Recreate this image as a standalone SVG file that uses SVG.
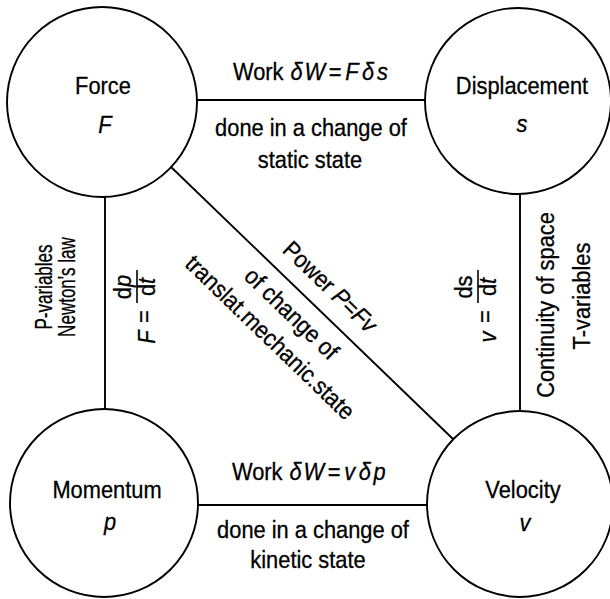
<svg xmlns="http://www.w3.org/2000/svg" width="610" height="599" viewBox="0 0 610 599">
<style>
text{font-family:"Liberation Sans",Arial,Helvetica,sans-serif;font-size:24px;fill:#000;stroke:#000;stroke-width:0.3}
.c{text-anchor:middle}
.i{font-style:italic}
.node circle{fill:#fff;stroke:#000;stroke-width:1.9}
.edge line{stroke:#000;stroke-width:1.9}
.bar{stroke:#000;stroke-width:1.6}
</style>
<rect width="610" height="599" fill="#fff"/>
<g id="connectors" class="edge">
<line x1="196" y1="100" x2="425" y2="100"/>
<line x1="197" y1="505" x2="427" y2="505"/>
<line x1="105" y1="196" x2="105" y2="410"/>
<line x1="520" y1="193" x2="520" y2="411"/>
<line x1="170" y1="166" x2="453" y2="439"/>
</g>
<g id="force" class="node">
<circle cx="102" cy="102" r="95"/>
<text class="c" transform="translate(103,94) scale(.91,1)">Force</text>
<text class="c i" transform="translate(105,133) scale(.91,1)">F</text>
</g>
<g id="displacement" class="node">
<circle cx="518" cy="101" r="93"/>
<text class="c" transform="translate(522,94) scale(.91,1)">Displacement</text>
<text class="c i" transform="translate(522,132) scale(.91,1)">s</text>
</g>
<g id="momentum" class="node">
<circle cx="104" cy="503" r="94"/>
<text class="c" transform="translate(107,498) scale(.91,1)">Momentum</text>
<text class="c i" transform="translate(110,530) scale(.91,1)">p</text>
</g>
<g id="velocity" class="node">
<circle cx="520" cy="504" r="93"/>
<text class="c" transform="translate(523,498) scale(.91,1)">Velocity</text>
<text class="c i" transform="translate(525,531) scale(.91,1)">v</text>
</g>
<g id="labels">
<text transform="translate(233,80) scale(.91,1)">Work <tspan class="i" dx="1">δ</tspan><tspan class="i" dx="2">W</tspan><tspan dx="4">=</tspan><tspan class="i" dx="4">F</tspan><tspan class="i" dx="4">δ</tspan><tspan class="i" dx="3">s</tspan></text>
<text class="c" transform="translate(311,136) scale(.91,1)">done in a change of</text>
<text class="c" transform="translate(310,168) scale(.91,1)">static state</text>
<text transform="translate(232,480) scale(.91,1)">Work <tspan class="i" dx="1">δ</tspan><tspan class="i" dx="2">W</tspan><tspan dx="4">=</tspan><tspan class="i" dx="4">v</tspan><tspan class="i" dx="4">δ</tspan><tspan class="i" dx="3">p</tspan></text>
<text class="c" transform="translate(313,538) scale(.91,1)">done in a change of</text>
<text class="c" transform="translate(308,568) scale(.91,1)">kinetic state</text>
<text class="c" transform="translate(52,287) rotate(-90) scale(.71,1)">P-variables</text>
<text class="c" transform="translate(75,287) rotate(-90) scale(.71,1)">Newton's law</text>
<text class="c" transform="translate(554,305) rotate(-90) scale(.91,1)">Continuity of space</text>
<text class="c" transform="translate(590,296) rotate(-90) scale(.91,1)">T-variables</text>
<g transform="translate(155,300) rotate(-90)">
<text class="c i" transform="translate(-37,0) scale(.91,1)">F</text>
<text class="c" transform="translate(-16.5,-3) scale(.91,1)">=</text>
<line class="bar" x1="-3" y1="-18" x2="30" y2="-18"/>
<text class="c" transform="translate(13,-24) scale(.91,1)">d<tspan class="i">p</tspan></text>
<text class="c" transform="translate(13,0) scale(.91,1)">d<tspan class="i">t</tspan></text>
</g>
<g transform="translate(496,300) rotate(-90)">
<text class="c i" transform="translate(-37,0) scale(.91,1)">v</text>
<text class="c" transform="translate(-16.5,-3) scale(.91,1)">=</text>
<line class="bar" x1="-3" y1="-18" x2="30" y2="-18"/>
<text class="c" transform="translate(13,-24) scale(.91,1)">ds</text>
<text class="c" transform="translate(13,0) scale(.91,1)">d<tspan class="i">t</tspan></text>
</g>
<g transform="translate(170,166) rotate(43.97)">
<text class="c" transform="translate(199,-16) scale(.91,1)">Power <tspan class="i">P</tspan>=<tspan class="i">Fv</tspan></text>
<text class="c" transform="translate(190,30) scale(.91,1)">of change of</text>
<text class="c" transform="translate(191,62) scale(.91,1)">translat.mechanic.state</text>
</g>
</g>
</svg>
